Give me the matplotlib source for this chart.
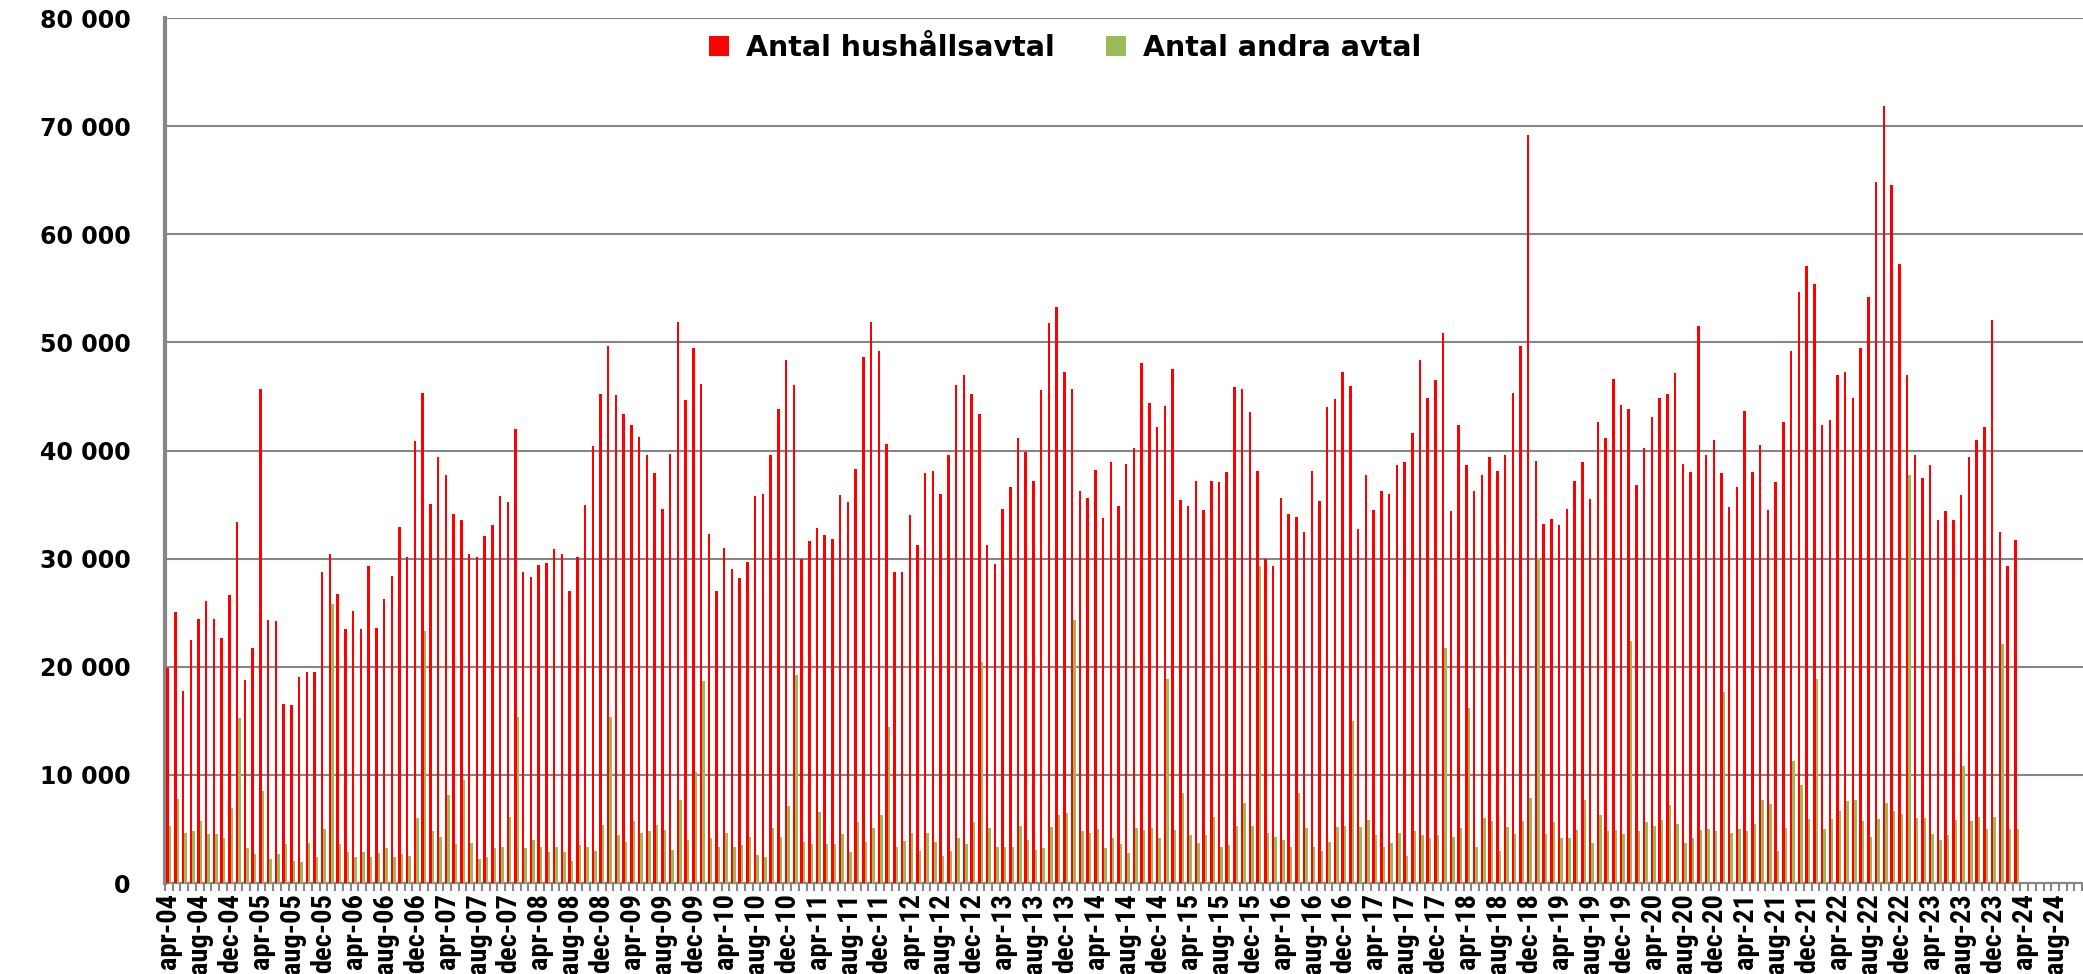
import matplotlib
matplotlib.use("Agg")
import matplotlib.pyplot as plt
from matplotlib import font_manager
from matplotlib.font_manager import FontProperties
import numpy as np

# Monthly values from apr-04 to mar-24
hushall = [
    19900, 25100, 17800, 22500, 24400, 26100, 24400, 22700, 26600, 33400, 18800, 21700, 45700, 24300, 24200, 16600, 16500, 19100, 19500, 19500,
    28800, 30400, 26700, 23500, 25200, 23500, 29300, 23600, 26300, 28400, 32900, 30200, 40900, 45300, 35100, 39400, 37700, 34100, 33600, 30400, 30200,
    32100, 33100, 35800, 35200, 42000, 28800, 28300, 29400, 29600, 30900, 30400, 27000, 30200, 35000, 40400, 45200, 49700, 45100, 43400, 42400, 41300,
    39600, 37900, 34600, 39700, 51900, 44700, 49500, 46200, 32300, 27000, 31000, 29000, 28200, 29700, 35800, 36000, 39600, 43800, 48400, 46100, 30000, 31600,
    32800, 32200, 31800, 35900, 35200, 38300, 48700, 51900, 49200, 40600, 28800, 28800, 34000, 31300, 37900, 38100, 36000, 39600, 46100, 47000, 45200, 43400,
    31300, 29500, 34600, 36600, 41200, 39900, 37200, 45600, 51800, 53300, 47300, 45700, 36300, 35600, 38200, 33800, 38900, 34900, 38800, 40200, 48100,
    44400, 42200, 44100, 47500, 35400, 34900, 37200, 34500, 37200, 37100, 38000, 45900, 45700, 43600, 38100, 30000, 29300, 35600, 34100, 33900, 32500,
    38100, 35300, 44000, 44800, 47300, 46000, 32700, 37700, 34500, 36300, 36000, 38700, 38900, 41600, 48400, 44900, 46500, 50900, 34400, 42400, 38700, 36300,
    37700, 39400, 38100, 39600, 45300, 49700, 69200, 39000, 33200, 33700, 33100, 34600, 37200, 38900, 35500, 42600, 41200, 46600, 44200, 43800, 36800,
    40200, 43100, 44900, 45200, 47200, 38800, 38000, 51500, 39600, 41000, 37900, 34800, 36600, 43700, 38000, 40500, 34500, 37100, 42600, 49200, 54700,
    57100, 55400, 42400, 42800, 47000, 47300, 44900, 49500, 54200, 64800, 71900, 64600, 57300, 47000, 39600, 37500, 38700, 33600, 34400, 33600, 35900, 39400,
    41000, 42200, 52100, 32500, 29300, 31700,
]

andra = [
    5300, 7800, 4600, 4800, 5700, 4500, 4500, 4200, 6900, 15300, 3200, 2700, 8500, 2200, 2700, 3600, 2000, 1900, 3700, 2400,
    5000, 25800, 3600, 2900, 2400, 2900, 2400, 2800, 3200, 2400, 2700, 2500, 6000, 23300, 4800, 4300, 8100, 3600, 9500, 3700, 2200,
    2400, 3200, 3300, 6100, 15400, 3200, 4000, 3300, 2900, 3300, 2900, 2000, 3500, 3300, 3000, 5400, 15400, 4400, 3800, 5700, 4600,
    4800, 5400, 4900, 3100, 7700, 4000, 10300, 18700, 4200, 3300, 4600, 3300, 3500, 4300, 2600, 2400, 5100, 4300, 7100, 19200, 3800, 3600,
    6600, 3600, 3600, 4500, 2900, 5600, 3800, 5100, 6300, 14400, 3300, 3900, 4600, 3000, 4600, 3800, 2500, 3000, 4200, 3600, 5600, 20400,
    5100, 3300, 3300, 3300, 5300, 4000, 3100, 3200, 5200, 6300, 6500, 24300, 4800, 4600, 5000, 3200, 4200, 3600, 2800, 5100, 4900,
    5100, 4200, 18900, 4900, 8300, 4400, 3700, 4400, 6100, 3300, 3500, 5300, 7400, 5300, 29300, 4600, 4300, 4000, 3300, 8300, 5100,
    3300, 3000, 3800, 5200, 5300, 15000, 5200, 5800, 4400, 3300, 3700, 4600, 2500, 4800, 4400, 4200, 4400, 21700, 4300, 5100, 16200, 3300,
    6000, 5700, 3000, 5200, 4500, 5700, 7900, 30100, 4500, 5600, 4200, 4200, 4900, 7700, 3700, 6300, 4800, 4900, 4500, 22400, 4800,
    5600, 5300, 5800, 7200, 5500, 3700, 4200, 4900, 5000, 4800, 17700, 4600, 5000, 4800, 5500, 7700, 7300, 3000, 5100, 11300, 9100,
    5900, 18900, 5000, 5900, 6700, 7600, 7700, 5700, 4300, 5900, 7400, 6700, 6400, 37700, 6000, 6000, 4500, 4000, 4400, 5800, 10800, 5700,
    6100, 5000, 6100, 22100, 5000, 5000,
]

month_names = ["jan", "feb", "mar", "apr", "maj", "jun", "jul", "aug", "sep", "okt", "nov", "dec"]

# category axis runs on past the data (apr-04 .. nov-24)
n_cat = 248
categories = []
for k in range(n_cat):
    m = (3 + k) % 12
    y = 4 + (3 + k) // 12
    categories.append(f"{month_names[m]}-{y:02d}")

red = "#FF0000"
green = "#9BBB59"
grid_col = "#868686"


def narrow_bold_font():
    # look for a narrow/condensed bold face; plain Liberation Sans bold otherwise
    fl = font_manager.fontManager.ttflist
    for f in fl:
        if f.name == "Liberation Sans Narrow" and f.weight in ("bold", 700) and f.style == "normal":
            return FontProperties(fname=f.fname)
    for fam in ["Roboto Condensed", "Open Sans Condensed", "Noto Sans", "Roboto", "Open Sans", "DejaVu Sans"]:
        for f in fl:
            if f.name == fam and f.stretch in ("condensed", "semi-condensed") and f.style == "normal" \
                    and (f.weight in ("bold", 700) or f.weight == 700):
                return FontProperties(fname=f.fname)
    return FontProperties(family="Liberation Sans", weight="bold")


xfp = narrow_bold_font()
xfp.set_size(18)

fig = plt.figure(figsize=(20.83, 9.74), dpi=100)
ax = fig.add_axes([0.0792, 0.0934, 0.9208, 0.888])

x = np.arange(len(hushall))
w = 0.32
ax.bar(x - w / 2, hushall, width=w, color=red, label="Antal hushållsavtal", zorder=3)
ax.bar(x + w / 2, andra, width=w, color=green, label="Antal andra avtal", zorder=3)

ax.set_ylim(0, 80000)
ax.set_xlim(-0.5, n_cat - 0.4)
yt = np.arange(0, 80001, 10000)
ax.set_yticks(yt)
ax.set_yticklabels([f"{v // 1000} 000" if v else "0" for v in yt],
                   fontsize=17, fontweight="bold", family="DejaVu Sans")
ax.tick_params(axis="y", length=0, pad=25)
ax.yaxis.grid(True, color=grid_col, linewidth=1.5, zorder=0)

# labels on every 4th category, tick marks between categories
ax.set_xticks(np.arange(0, n_cat, 4))
xlabels = ax.set_xticklabels(categories[::4], rotation=90, fontproperties=xfp)
ax.tick_params(axis="x", length=0, pad=7)
ax.set_xticks(np.arange(-0.5, n_cat, 1), minor=True)
ax.tick_params(axis="x", which="minor", length=6, width=1.5, color=grid_col, direction="out")

# scale the month labels so "apr-04" is about as long as in the source
fig.canvas.draw()
h = xlabels[0].get_window_extent().height
xfp.set_size(18 * 76.0 / h)
for t in xlabels:
    t.set_fontproperties(xfp)

for s in ["top", "right"]:
    ax.spines[s].set_visible(False)
ax.spines["left"].set_color(grid_col)
ax.spines["left"].set_linewidth(3)
ax.spines["bottom"].set_color(grid_col)
ax.spines["bottom"].set_linewidth(1.5)

fig.legend(loc="center", bbox_to_anchor=(0.5115, 0.951), ncol=2, frameon=False,
           prop={"family": "DejaVu Sans", "weight": "bold", "size": 20.5},
           handlelength=0.7, handleheight=0.7, columnspacing=1.8, handletextpad=0.6)

fig.savefig("out.png", dpi=100)
